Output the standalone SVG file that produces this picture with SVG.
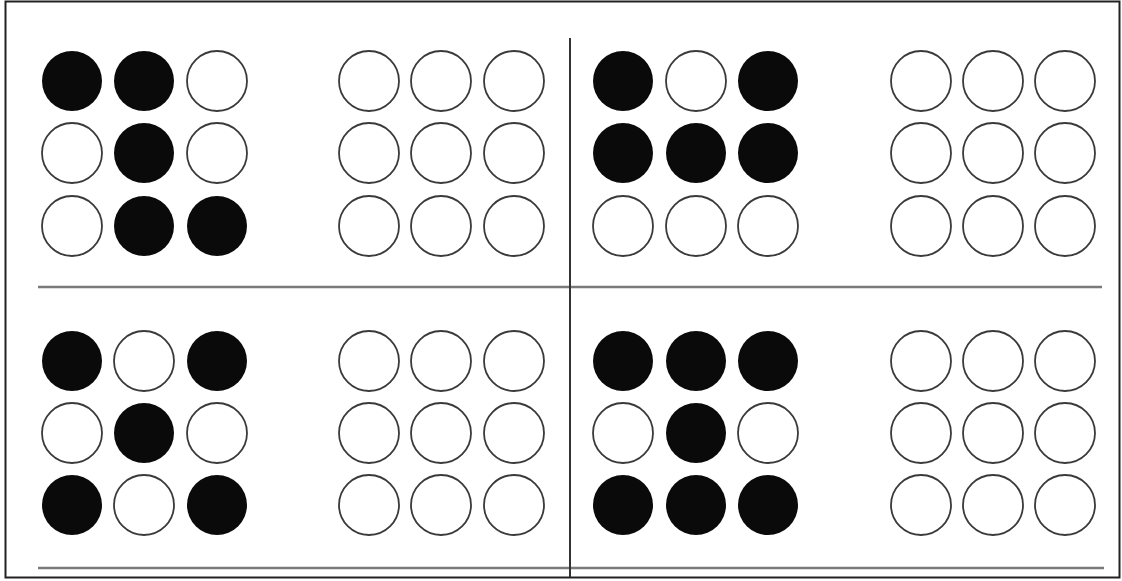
<svg xmlns="http://www.w3.org/2000/svg" width="1122" height="581" viewBox="0 0 1122 581">
<style>
.on{fill:#0a0a0a;stroke:none}
.off{fill:#fff;stroke:#3a3a3a;stroke-width:1.8}
.rule{stroke:#7a7a7a;stroke-width:2.5;fill:none}
</style>
<defs>
<circle id="c" r="30"/>
</defs>
<rect x="5.5" y="1.5" width="1114" height="576" fill="#fff" stroke="#222" stroke-width="2"/>
<g id="connectors">
<line class="rule" x1="38" y1="287" x2="1102" y2="287"/>
<line class="rule" x1="38" y1="568" x2="1104" y2="568"/>
<line x1="570" y1="38" x2="570" y2="577" stroke="#333" stroke-width="2"/>
</g>
<g id="grid1">
<circle class="on" cx="72" cy="81" r="30"/><circle class="on" cx="144" cy="81" r="30"/><circle class="off" cx="217" cy="81" r="30"/>
<circle class="off" cx="72" cy="153" r="30"/><circle class="on" cx="144" cy="153" r="30"/><circle class="off" cx="217" cy="153" r="30"/>
<circle class="off" cx="72" cy="226" r="30"/><circle class="on" cx="144" cy="226" r="30"/><circle class="on" cx="217" cy="226" r="30"/>
</g>
<g id="grid2">
<circle class="off" cx="369" cy="81" r="30"/><circle class="off" cx="441" cy="81" r="30"/><circle class="off" cx="514" cy="81" r="30"/>
<circle class="off" cx="369" cy="153" r="30"/><circle class="off" cx="441" cy="153" r="30"/><circle class="off" cx="514" cy="153" r="30"/>
<circle class="off" cx="369" cy="226" r="30"/><circle class="off" cx="441" cy="226" r="30"/><circle class="off" cx="514" cy="226" r="30"/>
</g>
<g id="grid3">
<circle class="on" cx="623" cy="81" r="30"/><circle class="off" cx="696" cy="81" r="30"/><circle class="on" cx="768" cy="81" r="30"/>
<circle class="on" cx="623" cy="153" r="30"/><circle class="on" cx="696" cy="153" r="30"/><circle class="on" cx="768" cy="153" r="30"/>
<circle class="off" cx="623" cy="226" r="30"/><circle class="off" cx="696" cy="226" r="30"/><circle class="off" cx="768" cy="226" r="30"/>
</g>
<g id="grid4">
<circle class="off" cx="921" cy="81" r="30"/><circle class="off" cx="993" cy="81" r="30"/><circle class="off" cx="1065" cy="81" r="30"/>
<circle class="off" cx="921" cy="153" r="30"/><circle class="off" cx="993" cy="153" r="30"/><circle class="off" cx="1065" cy="153" r="30"/>
<circle class="off" cx="921" cy="226" r="30"/><circle class="off" cx="993" cy="226" r="30"/><circle class="off" cx="1065" cy="226" r="30"/>
</g>
<g id="grid5">
<circle class="on" cx="72" cy="361" r="30"/><circle class="off" cx="144" cy="361" r="30"/><circle class="on" cx="217" cy="361" r="30"/>
<circle class="off" cx="72" cy="433" r="30"/><circle class="on" cx="144" cy="433" r="30"/><circle class="off" cx="217" cy="433" r="30"/>
<circle class="on" cx="72" cy="505" r="30"/><circle class="off" cx="144" cy="505" r="30"/><circle class="on" cx="217" cy="505" r="30"/>
</g>
<g id="grid6">
<circle class="off" cx="369" cy="361" r="30"/><circle class="off" cx="441" cy="361" r="30"/><circle class="off" cx="514" cy="361" r="30"/>
<circle class="off" cx="369" cy="433" r="30"/><circle class="off" cx="441" cy="433" r="30"/><circle class="off" cx="514" cy="433" r="30"/>
<circle class="off" cx="369" cy="505" r="30"/><circle class="off" cx="441" cy="505" r="30"/><circle class="off" cx="514" cy="505" r="30"/>
</g>
<g id="grid7">
<circle class="on" cx="623" cy="361" r="30"/><circle class="on" cx="696" cy="361" r="30"/><circle class="on" cx="768" cy="361" r="30"/>
<circle class="off" cx="623" cy="433" r="30"/><circle class="on" cx="696" cy="433" r="30"/><circle class="off" cx="768" cy="433" r="30"/>
<circle class="on" cx="623" cy="505" r="30"/><circle class="on" cx="696" cy="505" r="30"/><circle class="on" cx="768" cy="505" r="30"/>
</g>
<g id="grid8">
<circle class="off" cx="921" cy="361" r="30"/><circle class="off" cx="993" cy="361" r="30"/><circle class="off" cx="1065" cy="361" r="30"/>
<circle class="off" cx="921" cy="433" r="30"/><circle class="off" cx="993" cy="433" r="30"/><circle class="off" cx="1065" cy="433" r="30"/>
<circle class="off" cx="921" cy="505" r="30"/><circle class="off" cx="993" cy="505" r="30"/><circle class="off" cx="1065" cy="505" r="30"/>
</g>
</svg>
